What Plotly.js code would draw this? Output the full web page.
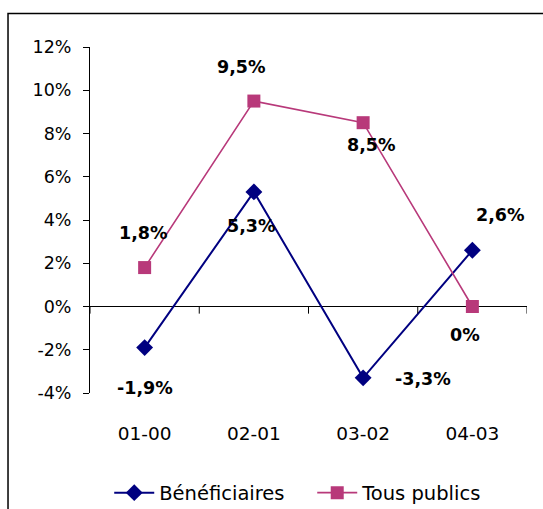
<!DOCTYPE html>
<html>
<head>
<meta charset="utf-8">
<script src="https://cdn.plot.ly/plotly-3.0.1.min.js"></script>
<style>html,body{margin:0;padding:0;background:#fff;}#chart{width:543px;height:509px;}</style>
</head>
<body>
<div id="chart"></div>
<script>
const categories = ["01-00", "02-01", "03-02", "04-03"];
const beneficiaires = [-1.9, 5.3, -3.3, 2.6];
const tousPublics = [1.8, 9.5, 8.5, 0];
const seriesNames = ["Bénéficiaires", "Tous publics"];
const yTickValues = [-4, -2, 0, 2, 4, 6, 8, 10, 12];

const navy = "#000080";
const plum = "#B8397A";
const fmt = v => String(v).replace(".", ",") + "%";

// label offsets (pixels) per point
const benOffsets = [[0, -40], [-2, -34], [60, -1], [28, 35]];
const tpOffsets = [[-1, 35], [-12, 34], [8, -22], [-7, -28]];

const labelFont = {family: "DejaVu Sans", size: 17.5, color: "#000", weight: "bold"};
const annotations = [];
beneficiaires.forEach((v, i) => annotations.push({
  x: categories[i], y: v, xref: "x", yref: "y", text: "<b>" + fmt(v) + "</b>",
  showarrow: false, xshift: benOffsets[i][0], yshift: benOffsets[i][1], font: labelFont
}));
tousPublics.forEach((v, i) => annotations.push({
  x: categories[i], y: v, xref: "x", yref: "y", text: "<b>" + fmt(v) + "</b>",
  showarrow: false, xshift: tpOffsets[i][0], yshift: tpOffsets[i][1], font: labelFont
}));

const shapes = [];
// category boundary ticks below the zero line
for (let i = 0; i <= categories.length; i++) {
  shapes.push({type: "line", xref: "x", yref: "y", x0: i - 0.5, x1: i - 0.5, y0: 0, y1: -0.33,
    line: {color: "#000", width: 1}});
}
// outer frame (left and top edges)
shapes.push({type: "path", xref: "paper", yref: "paper",
  path: "M -0.1876,-0.40 L -0.1876,1.0968 L 1.06,1.0968", line: {color: "#000", width: 1.5}});

const traces = [
  {x: categories, y: beneficiaires, name: seriesNames[0], type: "scatter", mode: "lines+markers",
   line: {color: navy, width: 2}, marker: {symbol: "diamond", size: 13, color: navy}},
  {x: categories, y: tousPublics, name: seriesNames[1], type: "scatter", mode: "lines+markers",
   line: {color: plum, width: 1.6}, marker: {symbol: "square", size: 13, color: plum}}
];

const layout = {
  width: 543, height: 509,
  margin: {l: 90, r: 16, t: 47, b: 116, autoexpand: false},
  paper_bgcolor: "#fff", plot_bgcolor: "#fff",
  showlegend: true,
  legend: {orientation: "h", x: 0.044, xanchor: "left", y: -0.289, yanchor: "middle",
    font: {family: "DejaVu Sans", size: 19.5, color: "#000"}, itemwidth: 40, entrywidth: 148,
    tracegroupgap: 0},
  xaxis: {type: "category", range: [-0.5, 3.5], showline: false, ticks: "", showgrid: false,
    zeroline: false, ticklabelstandoff: 27, tickfont: {family: "DejaVu Sans", size: 18.5, color: "#000"}},
  yaxis: {range: [-4, 12], tickvals: yTickValues, ticktext: yTickValues.map(v => v + "%"),
    showline: true, linecolor: "#000", linewidth: 1, ticks: "outside", ticklen: 6, tickcolor: "#000",
    showgrid: false, zeroline: true, zerolinecolor: "#000", zerolinewidth: 1,
    ticklabelstandoff: 8, tickfont: {family: "DejaVu Sans", size: 17.5, color: "#000"}},
  annotations: annotations,
  shapes: shapes
};

Plotly.newPlot("chart", traces, layout, {displayModeBar: false, staticPlot: true});
</script>
</body>
</html>
